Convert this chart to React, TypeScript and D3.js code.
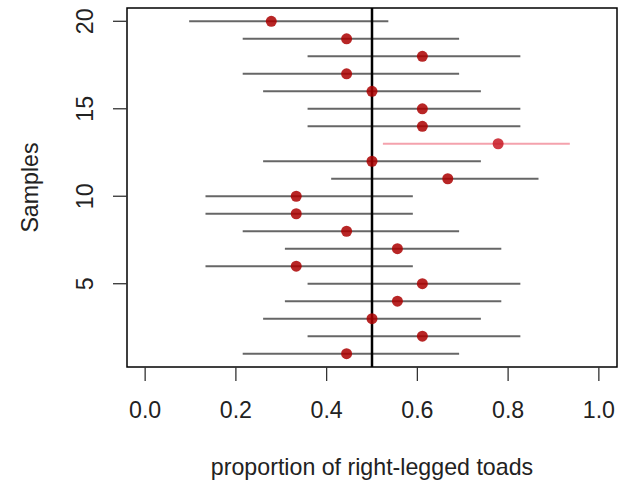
import React from "react";
import * as d3 from "d3";

const samples = [20, 19, 18, 17, 16, 15, 14, 13, 12, 11, 10, 9, 8, 7, 6, 5, 4, 3, 2, 1];
const estimates = [0.278, 0.444, 0.611, 0.444, 0.5, 0.611, 0.611, 0.778, 0.5, 0.667, 0.333, 0.333, 0.444, 0.556, 0.333, 0.611, 0.556, 0.5, 0.611, 0.444];
const lowers = [0.097, 0.215, 0.358, 0.215, 0.26, 0.358, 0.358, 0.524, 0.26, 0.41, 0.133, 0.133, 0.215, 0.308, 0.133, 0.358, 0.308, 0.26, 0.358, 0.215];
const uppers = [0.536, 0.692, 0.827, 0.692, 0.74, 0.827, 0.827, 0.936, 0.74, 0.867, 0.59, 0.59, 0.692, 0.785, 0.59, 0.827, 0.785, 0.74, 0.827, 0.692];
const missesTruth = [false, false, false, false, false, false, false, true, false, false, false, false, false, false, false, false, false, false, false, false];
const xTicks = [0, 0.2, 0.4, 0.6, 0.8, 1.0];
const yTicks = [5, 10, 15, 20];
const trueValue = 0.5;

export default function App() {
  const W = 618, H = 480;
  const left = 127, right = 617, top = 8, bottom = 367;
  const x = d3.scaleLinear().domain([-0.04, 1.04]).range([left, right]);
  const y = d3.scaleLinear().domain([0.24, 20.76]).range([bottom, top]);
  const font = "'Liberation Sans', Arial, Helvetica, sans-serif";
  const fs = 23.2;
  return (
    <svg width={W} height={H} style={{ position: "absolute", left: 0, top: 0, background: "#fff" }} fontFamily={font}>
      <rect x={0} y={0} width={W} height={H} fill="#fff" />
      {samples.map((s, i) => (
        <line key={"l" + s} x1={x(lowers[i])} x2={x(uppers[i])} y1={y(s)} y2={y(s)}
          stroke={missesTruth[i] ? "#f4a2ad" : "rgba(0,0,0,0.6)"} strokeWidth={2} />
      ))}
      <line x1={x(trueValue)} x2={x(trueValue)} y1={top} y2={bottom} stroke="#000" strokeWidth={2.5} />
      {samples.map((s, i) => (
        <circle key={"c" + s} cx={x(estimates[i])} cy={y(s)} r={5.5}
          fill={missesTruth[i] ? "rgb(200,25,35)" : "rgb(172,0,0)"} fillOpacity={0.85} />
      ))}
      <rect x={left} y={top} width={right - left} height={bottom - top} fill="none" stroke="#000" strokeWidth={1.5} />
      {xTicks.map((t) => (
        <g key={"xt" + t}>
          <line x1={x(t)} x2={x(t)} y1={bottom} y2={bottom + 14} stroke="#333" strokeWidth={1.3} />
          <text x={x(t)} y={417.5} textAnchor="middle" fontSize={fs} fill="#222">{t.toFixed(1)}</text>
        </g>
      ))}
      {yTicks.map((t) => (
        <g key={"yt" + t}>
          <line x1={left} x2={left - 14} y1={y(t)} y2={y(t)} stroke="#333" strokeWidth={1.3} />
          <text transform={`translate(93,${y(t)}) rotate(-90)`} textAnchor="middle" fontSize={fs} fill="#222">{t}</text>
        </g>
      ))}
      <text x={(left + right) / 2} y={475} textAnchor="middle" fontSize={fs} fill="#222">proportion of right-legged toads</text>
      <text transform={`translate(38,${(top + bottom) / 2}) rotate(-90)`} textAnchor="middle" fontSize={fs} fill="#222">Samples</text>
    </svg>
  );
}
